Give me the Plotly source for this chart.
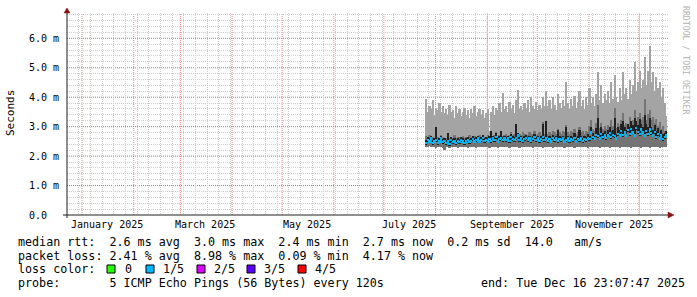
import plotly.graph_objects as go
import pandas as pd

# ---------------- data (milliseconds) ----------------
start_date = "2025-07-26"

p_max = [
    3.95, 3.5, 3.7, 3.6, 3.9, 3.4, 3.65, 3.55, 3.8, 3.5, 3.7, 3.45,
    3.6, 3.4, 3.75, 3.5, 3.55, 3.3, 3.7, 3.45, 3.6, 3.35, 3.5, 3.65,
    3.4, 3.55, 3.3, 3.6, 3.45, 3.7, 3.35, 3.5, 3.6, 3.4, 3.55, 3.3,
    3.45, 3.6, 2.85, 3.5, 3.7, 3.4, 3.65, 3.55, 3.8, 3.5, 4.15, 3.6,
    3.7, 3.5, 3.85, 3.6, 3.75, 3.45, 3.9, 4.25, 3.6, 3.7, 3.55, 3.8,
    3.65, 3.9, 3.5, 4.0, 3.7, 3.6, 3.85, 3.55, 3.75, 3.6, 4.0, 3.7,
    4.2, 3.7, 3.9, 3.6, 4.0, 3.75, 3.55, 4.1, 3.8, 3.65, 3.9, 3.7,
    4.5, 3.8, 3.6, 3.95, 3.7, 4.05, 3.65, 3.85, 4.2, 3.7, 3.9, 3.6,
    4.0, 3.75, 4.3, 3.8, 4.0, 3.7, 4.1, 4.85, 3.9, 4.4, 3.8, 4.1,
    3.9, 4.2, 3.8, 4.5, 3.95, 4.75, 4.0, 3.85, 4.3, 3.9, 4.85, 4.1,
    4.3, 3.95, 4.6, 4.1, 4.4, 5.2, 4.2, 4.5, 4.9, 4.3, 4.6, 5.35,
    4.4, 4.9, 5.75, 4.5, 4.85, 4.2, 4.7, 4.3, 4.5, 4.0, 4.3, 3.8, 3.35,
]

p_up = [
    2.68, 2.62, 2.72, 2.64, 2.66, 2.62, 2.95, 2.66, 2.62, 2.72, 2.64, 2.62,
    2.6, 2.78, 2.62, 2.66, 2.62, 2.72, 2.62, 2.64, 2.66, 2.6, 2.7, 2.62,
    2.64, 2.62, 2.72, 2.66, 2.62, 2.7, 2.64, 2.66, 2.72, 2.62, 2.66, 2.64,
    2.66, 2.72, 2.62, 2.78, 2.66, 2.72, 2.82, 2.66, 2.72, 2.78, 2.7, 2.72,
    2.76, 2.7, 2.72, 2.82, 2.72, 2.76, 3.05, 2.72, 2.76, 2.72, 2.82, 2.74,
    2.76, 2.72, 2.82, 2.74, 2.76, 2.86, 2.72, 2.76, 2.82, 2.72, 3.15, 2.76,
    3.15, 2.76, 2.82, 2.76, 2.86, 2.82, 2.76, 2.92, 2.82, 2.76, 2.86, 2.82,
    3.05, 2.82, 2.76, 2.86, 2.82, 2.92, 2.76, 2.82, 2.98, 2.82, 2.86, 2.76,
    2.86, 2.82, 3.02, 3.22, 2.92, 2.86, 3.12, 3.75, 2.96, 3.12, 2.92, 3.02,
    2.92, 3.06, 2.96, 3.22, 3.02, 3.65, 2.96, 3.12, 3.02, 3.22, 3.45, 3.06,
    3.12, 3.02, 3.32, 3.12, 3.22, 3.55, 3.16, 3.32, 3.45, 3.22, 3.32, 3.95,
    3.22, 3.42, 3.55, 3.22, 3.32, 3.12, 3.26, 3.02, 3.16, 2.92, 3.02, 2.86, 2.82,
]

p_dk = [
    2.55, 2.65, 2.6, 2.7, 2.55, 2.6, 3.0, 2.55, 2.6, 2.7, 2.58, 2.6,
    2.55, 2.8, 2.52, 2.65, 2.58, 2.6, 2.55, 2.62, 2.57, 2.65, 2.6, 2.55,
    2.6, 2.65, 2.58, 2.62, 2.68, 2.6, 2.65, 2.7, 2.6, 2.65, 2.72, 2.62,
    2.65, 2.6, 2.68, 2.85, 2.7, 2.65, 2.8, 2.6, 2.68, 2.85, 2.65, 2.7,
    2.65, 2.7, 2.62, 2.75, 2.68, 2.65, 3.1, 2.8, 2.65, 2.7, 2.62, 2.68,
    2.72, 2.65, 2.7, 2.62, 2.68, 2.75, 2.65, 2.7, 2.62, 2.68, 3.1, 2.65,
    3.2, 2.62, 2.68, 2.6, 2.72, 2.65, 2.7, 2.9, 2.68, 2.65, 2.7, 2.6,
    3.0, 2.7, 2.62, 2.68, 2.65, 2.8, 2.6, 2.68, 2.9, 2.7, 2.62, 2.68,
    2.65, 2.75, 2.7, 3.0, 2.8, 2.7, 2.95, 3.3, 2.75, 3.0, 2.8, 2.85,
    2.75, 2.9, 3.0, 2.85, 2.9, 3.3, 2.75, 3.0, 2.9, 3.1, 3.2, 3.0,
    2.9, 3.1, 3.0, 3.2, 3.05, 3.3, 3.2, 3.05, 3.25, 3.1, 3.0, 3.4,
    3.1, 3.0, 3.3, 3.0, 2.9, 3.05, 2.85, 2.95, 2.8, 2.9, 2.75, 2.8, 2.85,
]

med = [
    2.45, 2.55, 2.5, 2.6, 2.45, 2.5, 2.55, 2.45, 2.5, 2.6, 2.48, 2.52,
    2.45, 2.5, 2.42, 2.55, 2.48, 2.5, 2.45, 2.52, 2.47, 2.55, 2.5, 2.45,
    2.5, 2.55, 2.48, 2.52, 2.58, 2.5, 2.55, 2.6, 2.5, 2.55, 2.62, 2.52,
    2.55, 2.5, 2.58, 2.52, 2.6, 2.55, 2.65, 2.5, 2.58, 2.62, 2.55, 2.6,
    2.55, 2.6, 2.52, 2.65, 2.58, 2.55, 2.62, 2.7, 2.55, 2.6, 2.52, 2.58,
    2.62, 2.55, 2.6, 2.52, 2.58, 2.65, 2.55, 2.6, 2.52, 2.58, 2.65, 2.55,
    2.6, 2.52, 2.58, 2.5, 2.62, 2.55, 2.6, 2.52, 2.58, 2.55, 2.6, 2.5,
    2.55, 2.6, 2.52, 2.58, 2.55, 2.62, 2.5, 2.58, 2.55, 2.6, 2.52, 2.58,
    2.55, 2.62, 2.58, 2.8, 2.65, 2.6, 2.72, 2.68, 2.6, 2.75, 2.65, 2.7,
    2.62, 2.7, 2.78, 2.65, 2.72, 2.68, 2.6, 2.75, 2.7, 2.85, 2.72, 2.8,
    2.7, 2.88, 2.75, 2.92, 2.8, 2.7, 2.95, 2.82, 2.75, 2.9, 2.8, 2.7,
    2.85, 2.75, 2.9, 2.78, 2.7, 2.82, 2.65, 2.75, 2.6, 2.7, 2.58, 2.65, 2.7,
]

p_min = [
    2.32, 2.3, 2.33, 2.3, 2.31, 2.3, 2.28, 2.3, 2.32, 2.3, 2.26, 2.2,
    2.3, 2.31, 2.29, 2.32, 2.3, 2.3, 2.31, 2.29, 2.3, 2.32, 2.3, 2.31,
    2.3, 2.29, 2.31, 2.3, 2.32, 2.3, 2.29, 2.31, 2.3, 2.3, 2.32, 2.3,
    2.31, 2.3, 2.29, 2.3, 2.32, 2.3, 2.31, 2.29, 2.3, 2.31, 2.3, 2.32,
    2.3, 2.31, 2.29, 2.3, 2.3, 2.32, 2.3, 2.31, 2.29, 2.3, 2.31, 2.3,
    2.32, 2.3, 2.3, 2.31, 2.29, 2.3, 2.32, 2.3, 2.31, 2.3, 2.29, 2.3,
    2.31, 2.3, 2.32, 2.3, 2.29, 2.31, 2.3, 2.3, 2.32, 2.3, 2.31, 2.29,
    2.3, 2.31, 2.3, 2.32, 2.3, 2.29, 2.31, 2.3, 2.3, 2.32, 2.3, 2.31,
    2.3, 2.29, 2.31, 2.3, 2.32, 2.3, 2.3, 2.31, 2.29, 2.3, 2.32, 2.3,
    2.31, 2.3, 2.29, 2.3, 2.31, 2.3, 2.32, 2.3, 2.29, 2.31, 2.3, 2.3,
    2.32, 2.3, 2.31, 2.29, 2.3, 2.31, 2.3, 2.32, 2.3, 2.29, 2.31, 2.3,
    2.3, 2.31, 2.29, 2.3, 2.32, 2.3, 2.31, 2.3, 2.29, 2.3, 2.31, 2.3, 2.31,
]

y_tickvals = [0, 1, 2, 3, 4, 5, 6]
y_ticktext = ["0.0\u00a0\u00a0", "1.0 m", "2.0 m", "3.0 m", "4.0 m", "5.0 m", "6.0 m"]
y_minor_vals = [round(k * 0.2, 1) for k in range(1, 35) if k % 5 != 0]

x_label_dates = ["2025-01-16", "2025-03-16", "2025-05-16", "2025-07-16", "2025-09-16", "2025-11-16"]
x_label_text = ["January 2025", "March 2025", "May 2025", "July 2025", "September 2025", "November 2025"]

x_range = ["2024-12-23 00:00", "2025-12-18 09:00"]
y_range = [0, 6.86]

line_rtt = "median rtt:  2.6 ms avg  3.0 ms max  2.4 ms min  2.7 ms now  0.2 ms sd  14.0   am/s"
line_loss = "packet loss: 2.41 % avg  8.98 % max  0.09 % min  4.17 % now"
line_color = "loss color:"
line_probe = "probe:       5 ICMP Echo Pings (56 Bytes) every 120s"
line_end = "end: Tue Dec 16 23:07:47 2025"
loss_labels = ["0", "1/5", "2/5", "3/5", "4/5"]
loss_colors = ["#26ff00", "#00b8ff", "#dd00ff", "#5e00ff", "#ff0000"]

# ---------------- geometry helpers (pixels -> paper) ----------------
W, H = 697, 297
L, R, T, B = 67, 668, 13, 215


def px(x):
    return (x - L) / (R - L)


def py(y):
    return (B - y) / (B - T)


def nb(s):
    return s.replace(" ", "\u00a0")


days = pd.date_range(start_date, periods=len(p_max), freq="D") + pd.Timedelta(hours=12)
day_ms = 86400000

light_h = [a - b for a, b in zip(p_max, p_min)]
mid_h = [a - b for a, b in zip(p_up, p_min)]
dk_base = [m - 0.06 for m in med]
dk_h = [max(a - b, 0) for a, b in zip(p_dk, dk_base)]
med_base = [m - 0.04 for m in med]
med_h = [0.08 for _ in med]

fig = go.Figure()
fig.add_trace(go.Bar(x=days, y=light_h, base=p_min, width=day_ms,
                     marker=dict(color="#a4a4a4", line=dict(width=0)), hoverinfo="skip"))
fig.add_trace(go.Bar(x=days, y=mid_h, base=p_min, width=day_ms,
                     marker=dict(color="#747474", line=dict(width=0)), hoverinfo="skip"))
fig.add_trace(go.Bar(x=days, y=dk_h, base=dk_base, width=day_ms,
                     marker=dict(color="#222222", line=dict(width=0)), hoverinfo="skip"))
fig.add_trace(go.Bar(x=days, y=med_h, base=med_base, width=day_ms,
                     marker=dict(color=loss_colors[1], line=dict(width=0)), hoverinfo="skip"))

mono = "DejaVu Sans Mono"
red_grid = "rgba(230,100,100,0.8)"
red_hgrid = "#e06060"
gray_grid = "#cccccc"

month_starts = pd.date_range("2025-01-01", "2025-12-01", freq="MS")
mondays = pd.date_range("2024-12-23", "2025-12-18", freq="W-MON")

shapes = []
# major (red, dotted) grid lines
for m in month_starts:
    shapes.append(dict(type="line", xref="x", yref="paper", x0=m, x1=m, y0=0, y1=1,
                       line=dict(color=red_grid, width=1, dash="1px,1px"), layer="below"))
for v in y_tickvals[1:]:
    shapes.append(dict(type="line", xref="x", yref="y", x0=x_range[0], x1=x_range[1],
                       y0=v, y1=v,
                       line=dict(color=red_hgrid, width=1, dash="1px,1px"), layer="below"))

# axis lines + arrows
shapes.append(dict(type="line", xref="paper", yref="paper", x0=px(L), x1=px(L),
                   y0=py(218), y1=py(10), line=dict(color="#202020", width=1), layer="above"))
shapes.append(dict(type="line", xref="paper", yref="paper", x0=px(63), x1=px(670),
                   y0=py(B), y1=py(B), line=dict(color="#202020", width=1), layer="above"))
shapes.append(dict(type="path", xref="paper", yref="paper",
                   path=f"M {px(64)} {py(13)} L {px(70)} {py(13)} L {px(67)} {py(8)} Z",
                   fillcolor="#8b1010", line=dict(color="#8b1010", width=0.5), layer="above"))
shapes.append(dict(type="path", xref="paper", yref="paper",
                   path=f"M {px(668)} {py(212)} L {px(668)} {py(218)} L {px(674)} {py(215)} Z",
                   fillcolor="#8b1010", line=dict(color="#8b1010", width=0.5), layer="above"))

# loss colour boxes
box_x = [107, 146, 197, 247, 298]
lab_x = [123, 161, 212, 262, 313]
for bx, c in zip(box_x, loss_colors):
    shapes.append(dict(type="rect", xref="paper", yref="paper",
                       x0=px(bx), x1=px(bx + 8), y0=py(273), y1=py(265),
                       fillcolor=c, line=dict(color="#000000", width=1), layer="above"))

tfont = dict(family=mono, size=11.7, color="#000000")
annotations = []
for txt, yy in [(line_rtt, 241.8), (line_loss, 255.6), (line_color, 269.4), (line_probe, 283.4)]:
    annotations.append(dict(text=nb(txt), xref="paper", yref="paper", x=px(16), y=py(yy),
                            xanchor="left", yanchor="middle", showarrow=False, font=tfont))
annotations.append(dict(text=nb(line_end), xref="paper", yref="paper", x=px(479), y=py(283.4),
                        xanchor="left", yanchor="middle", showarrow=False, font=tfont))
for lx, lt in zip(lab_x, loss_labels):
    annotations.append(dict(text=lt, xref="paper", yref="paper", x=px(lx), y=py(269.4),
                            xanchor="left", yanchor="middle", showarrow=False, font=tfont))
# x-axis labels centred mid-month
for d, t in zip(x_label_dates, x_label_text):
    annotations.append(dict(text=nb(t), xref="x", yref="paper", x=d, y=py(224.5),
                            xanchor="center", yanchor="middle", showarrow=False,
                            font=dict(family=mono, size=10, color="#000000")))
annotations.append(dict(text="Seconds", xref="paper", yref="paper", x=px(10), y=py(113),
                        xanchor="center", yanchor="middle", textangle=-90, showarrow=False,
                        font=dict(family=mono, size=11, color="#000000")))
annotations.append(dict(text=nb("RRDTOOL / TOBI OETIKER"), xref="paper", yref="paper",
                        x=px(686), y=py(60), xanchor="center", yanchor="middle", textangle=90,
                        showarrow=False, font=dict(family=mono, size=8.2, color="#b4b4b4")))

fig.update_layout(
    width=W, height=H, autosize=False,
    margin=dict(l=L, r=W - R, t=T, b=H - B, pad=0),
    paper_bgcolor="#ffffff", plot_bgcolor="#ffffff",
    barmode="overlay", bargap=0, showlegend=False,
    shapes=shapes, annotations=annotations,
    xaxis=dict(type="date", range=x_range, showticklabels=False, showgrid=False,
               ticks="", zeroline=False, showline=False,
               minor=dict(tickmode="array", tickvals=list(mondays), showgrid=True,
                          gridcolor=gray_grid, griddash="1px,1px", gridwidth=1, ticks="")),
    yaxis=dict(range=y_range, tickvals=y_tickvals, ticktext=y_ticktext,
               showgrid=False, ticks="", zeroline=False, showline=False,
               tickfont=dict(family=mono, size=10, color="#000000"), ticklabelstandoff=7,
               minor=dict(tickmode="array", tickvals=y_minor_vals, showgrid=True,
                          gridcolor=gray_grid, griddash="1px,1px", gridwidth=1, ticks="")),
)

fig.write_html("out.html")
